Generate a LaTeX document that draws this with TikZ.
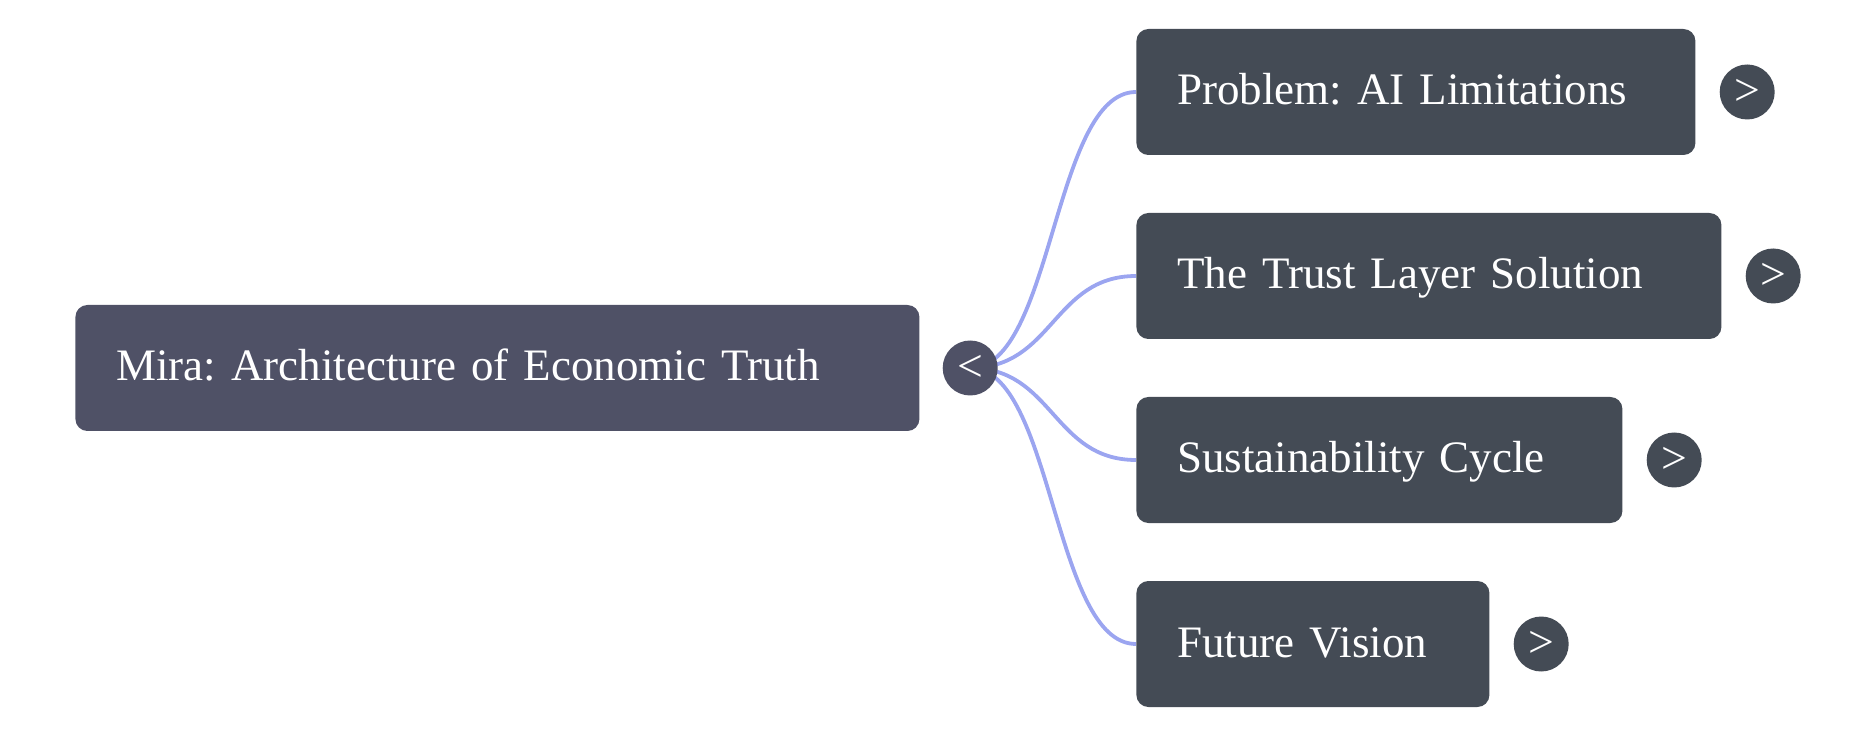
\documentclass[tikz,border=0pt]{standalone}
\usepackage{fontspec}
\setmainfont{Liberation Serif}
\usetikzlibrary{positioning}
\definecolor{mirasteel}{RGB}{79,81,102}
\definecolor{mirabranch}{RGB}{68,75,85}
\definecolor{miralink}{RGB}{155,165,240}
\pgfdeclarelayer{background}
\pgfsetlayers{background,main}
\frenchspacing

\begin{document}
\begin{tikzpicture}[x=0.5pt, y=-0.5pt,
    topicbox/.style={rounded corners=6pt, minimum height=63pt, inner xsep=20.5pt, inner ysep=0pt, text height=13pt, text depth=0pt, align=left, font=\fontsize{22.5}{26}\selectfont, text=white},
    rootbox/.style={topicbox, fill=mirasteel},
    branchbox/.style={topicbox, fill=mirabranch},
    toggle/.style={circle, minimum size=27.5pt, inner sep=0pt, text=white, font=\fontsize{22.85}{26}\selectfont},
    link/.style={draw=miralink, line width=1.9pt}
  ]
  \useasboundingbox (0,0) rectangle (1874,737);

  % Root topic
  \node[rootbox, text width=381pt, anchor=west] (mira) at (75,368) {Mira: Architecture of Economic Truth};
  \node[toggle, fill=mirasteel, right=11.25pt of mira] (miratog) {<};

  % Branches
  \node[branchbox, text width=238.5pt, anchor=west] (problem) at (1136,92) {Problem: AI Limitations};
  \node[branchbox, text width=251.5pt, anchor=west] (trust) at (1136,276) {The Trust Layer Solution};
  \node[branchbox, text width=202pt, anchor=west] (cycle) at (1136,460) {Sustainability Cycle};
  \node[branchbox, text width=135.5pt, anchor=west] (vision) at (1136,644) {Future Vision};

  % Toggles
  \node[toggle, fill=mirabranch, right=11.75pt of problem] (problemtog) {>};
  \node[toggle, fill=mirabranch, right=11.75pt of trust] (trusttog) {>};
  \node[toggle, fill=mirabranch, right=11.75pt of cycle] (cycletog) {>};
  \node[toggle, fill=mirabranch, right=11.75pt of vision] (visiontog) {>};

  % Links
  \begin{pgfonlayer}{background}
    \foreach \b in {problem,trust,cycle,vision}
      \draw[link] (miratog.center) .. controls +(83,0) and +(-83,0) .. (\b.west);
  \end{pgfonlayer}
\end{tikzpicture}
\end{document}
